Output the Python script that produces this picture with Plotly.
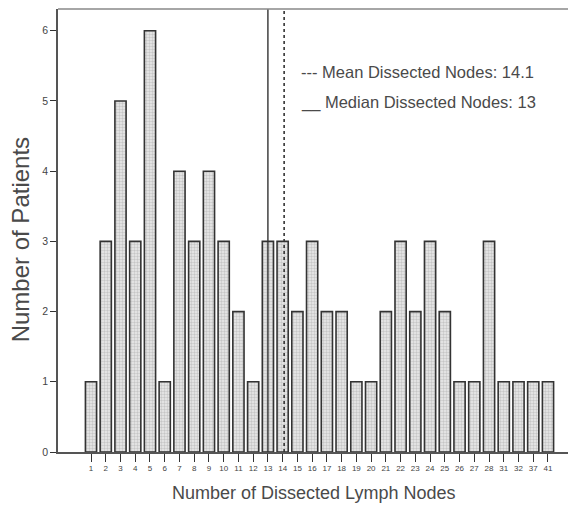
import plotly.graph_objects as go

categories = [1, 2, 3, 4, 5, 6, 7, 8, 9, 10, 11, 12, 13, 14, 15, 16, 17, 18, 19, 20,
              21, 22, 23, 24, 25, 26, 27, 28, 31, 32, 37, 41]
counts = [1, 3, 5, 3, 6, 1, 4, 3, 4, 3, 2, 1, 3, 3, 2, 3, 2, 2, 1, 1,
          2, 3, 2, 3, 2, 1, 1, 3, 1, 1, 1, 1]
mean_nodes = 14.1
median_nodes = 13

positions = list(range(len(categories)))

def pos_of(v):
    # locate value on the categorical position scale
    base = max(c for c in categories if c <= v)
    i = categories.index(base)
    return i + (v - base)

font = "Liberation Sans, Arial, sans-serif"
txt = "#4a4a4a"

fig = go.Figure()
fig.add_trace(go.Bar(
    x=positions, y=counts, width=0.76,
    marker=dict(color="#ececec",
                line=dict(color="#333333", width=1.6),
                pattern=dict(shape=".", fgcolor="#a0a0a0", bgcolor="#ececec",
                             size=3, solidity=0.5)),
    showlegend=False,
))

fig.add_shape(type="line", xref="x", yref="paper",
              x0=pos_of(median_nodes), x1=pos_of(median_nodes), y0=0, y1=1,
              line=dict(color="#333333", width=1.4))
fig.add_shape(type="line", xref="x", yref="paper",
              x0=pos_of(mean_nodes), x1=pos_of(mean_nodes), y0=0, y1=1,
              line=dict(color="#333333", width=1.6, dash="dot"))

fig.add_annotation(xref="paper", yref="paper", x=0.466, y=0.857, xanchor="left", yanchor="middle",
                   text=f"--- Mean Dissected Nodes: {mean_nodes}", showarrow=False,
                   font=dict(family=font, size=16.5, color=txt))
fig.add_annotation(xref="paper", yref="paper", x=0.466, y=0.79, xanchor="left", yanchor="middle",
                   text=f"__ Median Dissected Nodes: {median_nodes}", showarrow=False,
                   font=dict(family=font, size=16.5, color=txt))

# page body has an 8px default margin; compensate so plot area sits at x=58..576, y=9..452
fig.update_layout(
    width=568, height=502,
    margin=dict(l=50, r=0, t=1, b=58),
    paper_bgcolor="white", plot_bgcolor="white",
    font=dict(family=font, color=txt),
)
fig.update_xaxes(
    range=[-2.24, 32.9], automargin=False,
    tickvals=positions, ticktext=[str(c) for c in categories],
    ticks="outside", ticklen=8, tickwidth=1.2, tickcolor="#333",
    tickfont=dict(size=8, color="#444"),
    showline=True, linecolor="#555", linewidth=1.5, mirror=False,
    showgrid=False, zeroline=False,
)
fig.update_yaxes(
    range=[0, 6.31], automargin=False,
    tickvals=[0, 1, 2, 3, 4, 5, 6],
    ticks="outside", ticklen=6, tickwidth=1.2, tickcolor="#333",
    tickfont=dict(size=10.5, color="#444"),
    showline=True, linecolor="#555", linewidth=1.5,
    showgrid=False, zeroline=False,
)
fig.add_annotation(xref="paper", yref="paper", x=0.494, y=-0.093, xanchor="center", yanchor="middle",
                   text="Number of Dissected Lymph Nodes", showarrow=False,
                   font=dict(family=font, size=18, color=txt))
fig.add_annotation(xref="paper", yref="paper", x=-0.0734, y=0.48, xanchor="center", yanchor="middle",
                   text="Number of Patients", showarrow=False, textangle=-90,
                   font=dict(family=font, size=24, color=txt))
fig.add_shape(type="line", xref="paper", yref="paper", x0=0, x1=1, y0=1, y1=1,
              line=dict(color="#888", width=1.5))

fig.write_html("out.html")
